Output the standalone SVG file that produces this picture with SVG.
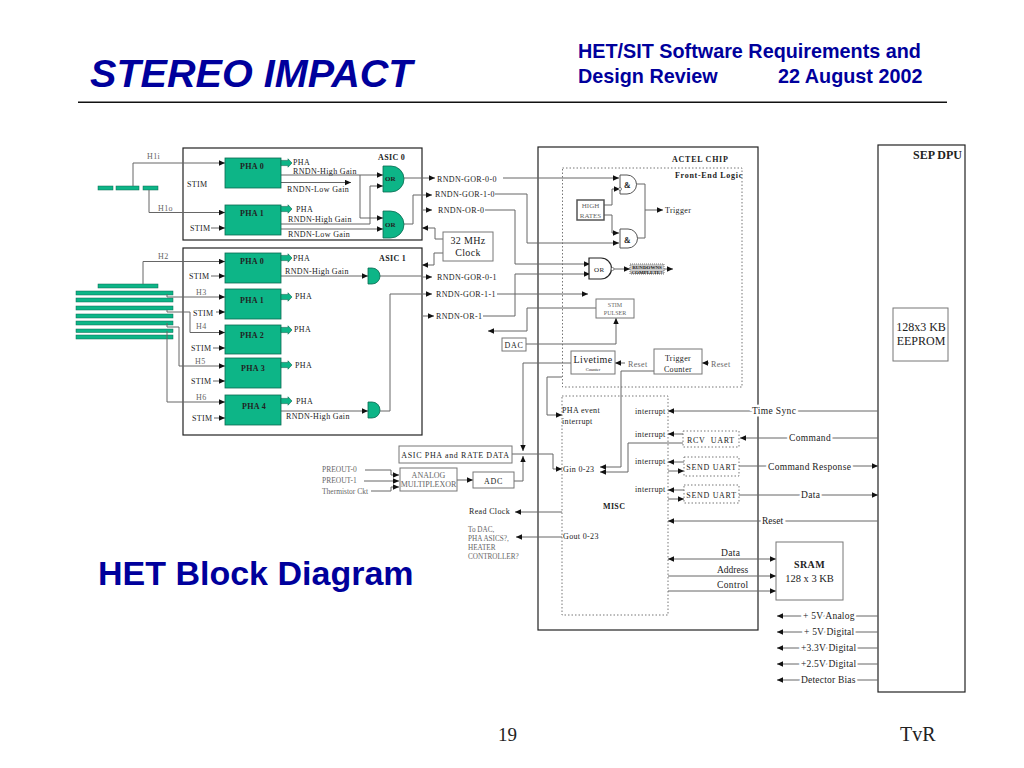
<svg xmlns="http://www.w3.org/2000/svg" width="1024" height="768" viewBox="0 0 1024 768">
<style>
text{font-family:"Liberation Serif","Times New Roman",serif;font-size:8px;fill:#222;letter-spacing:.35px}
.hd{font-family:"Liberation Sans",Arial,sans-serif;font-weight:bold;fill:#00009c;letter-spacing:0}
.b{font-weight:bold}
.g{fill:#666}
.h{paint-order:stroke;stroke:#fff;stroke-width:4.500px}
.m{text-anchor:middle}
.box{fill:#fff;stroke:#222;stroke-width:1.2}
.lbox{fill:#fff;stroke:#777;stroke-width:1}
.dot{fill:none;stroke:#777;stroke-width:1;stroke-dasharray:1.5 2}
.green{fill:#0db587;stroke:#0a6a50;stroke-width:.8}
.bar{fill:#0db587;stroke:#0a6a50;stroke-width:.5}
.c{fill:none;stroke:#666;stroke-width:1}
.a{marker-end:url(#ar)}
.aa{marker-start:url(#ar);marker-end:url(#ar)}
</style>
<defs>
<marker id="ar" markerUnits="userSpaceOnUse" markerWidth="7" markerHeight="6" refX="6" refY="3" orient="auto-start-reverse"><path d="M0 .3L6 3L0 5.700Z" fill="#111"/></marker>
<path id="out" d="M0-2.6H7V-4.2L11 0L7 4.2V2.6H0Z" fill="#0db587" stroke="#0a6a50" stroke-width=".6"/>
</defs>
<rect width="1024" height="768" fill="#fff"/>

<g id="header">
<text x="90" y="87" class="hd" style="font-size:39.600px;font-style:italic">STEREO IMPACT</text>
<text x="578" y="58" class="hd" style="font-size:19.800px">HET/SIT Software Requirements and</text>
<text x="578" y="83" class="hd" style="font-size:19.800px">Design Review</text>
<text x="778" y="83" class="hd" style="font-size:19.800px">22 August 2002</text>
<rect x="78" y="101.500" width="869" height="1.500" fill="#111"/>
<text x="98" y="585" class="hd" style="font-size:34px">HET Block Diagram</text>
<text x="498" y="741" style="font-size:19px;letter-spacing:0">19</text>
<text x="900" y="741" style="font-size:20px;letter-spacing:0">TvR</text>
</g>

<g id="asic0"><rect class="box" x="183" y="148" width="239" height="92"/><text x="378" y="160" class="b">ASIC 0</text><text x="187" y="187">STIM</text></g>
<g id="asic1"><rect class="box" x="183" y="248" width="239" height="187"/><text x="379" y="261" class="b">ASIC 1</text></g>
<g id="actel"><rect class="box" x="538" y="147" width="220" height="483"/><text x="672" y="162" class="b" style="letter-spacing:.75px">ACTEL CHIP</text></g>
<g id="front-end"><rect class="dot" x="562.500" y="168" width="179.500" height="219"/><text x="675" y="178" class="b" style="letter-spacing:.7px">Front-End Logic</text></g>
<g id="misc"><rect class="dot" x="562" y="396" width="106" height="219"/><text x="603" y="509" class="b">MISC</text>
<text x="562" y="413">PHA event</text><text x="562" y="424">interrupt</text><text x="563" y="472">Gin 0-23</text><text x="563" y="539">Gout 0-23</text>
<text x="635" y="414">interrupt</text><text x="635" y="437">interrupt</text><text x="635" y="464">interrupt</text><text x="635" y="492">interrupt</text></g>
<g id="sep-dpu"><rect class="box" x="878" y="145" width="87" height="547"/><text x="913" y="159" class="b" style="font-size:12px;letter-spacing:0">SEP DPU</text></g>
<g id="eeprom"><rect class="lbox" x="893" y="308" width="55" height="53"/><text x="921" y="331" class="m" style="font-size:12px;letter-spacing:0">128x3 KB</text><text x="921" y="345" class="m" style="font-size:12px;letter-spacing:0">EEPROM</text></g>

<g id="detectors">
<rect class="bar" x="98" y="186" width="15" height="4"/><rect class="bar" x="116" y="186" width="23" height="4"/><rect class="bar" x="143" y="186" width="15" height="4"/>
<rect class="bar" x="98" y="284" width="60" height="4"/>
<rect class="bar" x="76" y="291" width="97" height="4"/><rect class="bar" x="76" y="298" width="97" height="4"/><rect class="bar" x="76" y="306" width="97" height="4"/><rect class="bar" x="76" y="314" width="97" height="4"/><rect class="bar" x="76" y="321" width="97" height="4"/><rect class="bar" x="76" y="329" width="97" height="3.500"/><rect class="bar" x="76" y="335" width="97" height="4"/>
</g>

<g id="connectors">
<path class="c a" d="M133 186V163H225"/><path class="c a" d="M149 190V212.500H225"/><path class="c a" d="M143 284V261.500H225"/>
<path class="c a" d="M167 294V297H225"/><path class="c a" d="M167 310V312H190V332.500H225"/><path class="c a" d="M167 323V327H179V366H225"/><path class="c a" d="M167 331V402H225"/>
<path class="c a" d="M211 228H225"/><path class="c a" d="M211 276H225"/><path class="c a" d="M216 312H225"/><path class="c a" d="M213 348H225"/><path class="c a" d="M213 381H225"/><path class="c a" d="M214 418H225"/>
<path class="c a" d="M281 175H383"/><path class="c a" d="M360 175V218H383"/><path class="c a" d="M281 182.500H351"/><path class="c a" d="M281 224H370V186H383"/><path class="c a" d="M281 229H383"/>
<path class="c a" d="M281 276H368"/><path class="c a" d="M281 411H368"/>
<path class="c a" d="M404 178H435"/><path class="c a" d="M404 224H413V195H432"/><path class="c a" d="M423 210H432"/><path class="c" d="M380 276H422"/><path class="c a" d="M423 277H432"/>
<path class="c" d="M380 411H390V294H422"/><path class="c a" d="M423 294H432"/><path class="c a" d="M423 316H434"/>
<path class="c a" d="M443 239H435V228H422"/><path class="c a" d="M443 253H434V265H422"/>
<path class="c a" d="M503 178H619"/><path class="c a" d="M495 194H527V243H619"/><path class="c a" d="M485 210H515V264H590"/><path class="c a" d="M483 316H515V274H590"/><path class="c a" d="M497 294H588"/>
<path class="c a" d="M604 205H612V189H620"/><path class="c a" d="M604 215H612V233H619"/><path class="c" d="M636 184H645V238H637"/><path class="c a" d="M645 210H663"/>
<path class="c a" d="M614 269H630"/><path class="c a" d="M664 269H673"/>
<path class="c a" d="M596 308H527V331H488"/><path class="c a" d="M526 344H616V318"/>
<path class="c a" d="M625 363H615"/><path class="c a" d="M709 363H702"/>
<path class="c a" d="M571 363H523V451"/><path class="c a" d="M514 481H523V456"/><path class="c a" d="M512 454H553V469H562"/>
<path class="c a" d="M654 371H621V467H600"/><path class="c a" d="M683 443H628V472H600"/>
<path class="c a" d="M562 377H547V415H562"/>
<path class="c a" d="M878 411H668"/><path class="c a" d="M878 438H740"/><path class="c a" d="M683 434H668"/><path class="c a" d="M684 462H668"/><path class="c a" d="M668 471H684"/><path class="c a" d="M739 466H878"/><path class="c a" d="M684 490H668"/><path class="c a" d="M668 499H684"/><path class="c a" d="M739 495H878"/><path class="c a" d="M878 521H668"/>
<path class="c aa" d="M668 559H776"/><path class="c a" d="M668 576H776"/><path class="c a" d="M668 591H776"/>
<path class="c a" d="M878 616H777"/><path class="c a" d="M878 632H777"/><path class="c a" d="M878 648H777"/><path class="c a" d="M878 664H777"/><path class="c a" d="M878 680H777"/>
<path class="c a" d="M365 470H391V475H399"/><path class="c a" d="M364 481H399"/><path class="c a" d="M371 491H391V487H399"/><path class="c a" d="M457 480H473"/>
<path class="c a" d="M562 512H515"/><path class="c a" d="M562 537H516"/>
</g>

<g id="a0-pha0"><rect class="green" x="225" y="158" width="56" height="30"/><text x="252" y="169" class="m b">PHA 0</text><use href="#out" x="281" y="163"/><text x="293" y="165">PHA</text></g>
<g id="a0-pha1"><rect class="green" x="225" y="205" width="56" height="30"/><text x="252" y="216" class="m b">PHA 1</text><use href="#out" x="281" y="209"/><text x="296" y="212">PHA</text></g>
<g id="a1-pha0"><rect class="green" x="225" y="253" width="56" height="30"/><text x="252" y="264" class="m b">PHA 0</text><use href="#out" x="281" y="258"/><text x="293" y="261">PHA</text></g>
<g id="a1-pha1"><rect class="green" x="225" y="289" width="56" height="30"/><text x="252" y="303" class="m b">PHA 1</text><use href="#out" x="281" y="297"/><text x="295" y="299">PHA</text></g>
<g id="a1-pha2"><rect class="green" x="225" y="325" width="56" height="29"/><text x="252" y="338" class="m b">PHA 2</text><use href="#out" x="281" y="330"/><text x="294" y="332">PHA</text></g>
<g id="a1-pha3"><rect class="green" x="225" y="358" width="56" height="30"/><text x="253" y="371" class="m b">PHA 3</text><use href="#out" x="281" y="365"/><text x="295" y="368">PHA</text></g>
<g id="a1-pha4"><rect class="green" x="225" y="395" width="56" height="30"/><text x="254" y="409" class="m b">PHA 4</text><use href="#out" x="281" y="401"/><text x="296" y="404">PHA</text></g>

<g id="gates">
<path class="green" d="M383 166H391A13 13 0 0 1 391 192H383Z"/><text x="385" y="181" class="b" style="font-size:7px;letter-spacing:0">OR</text>
<path class="green" d="M383 211H390.500A13.500 13.500 0 0 1 390.500 238H383Z"/><text x="385" y="227" class="b" style="font-size:7px;letter-spacing:0">OR</text>
<path class="green" d="M368 268H372A8 8 0 0 1 372 284H368Z"/><path class="green" d="M368 402H372A8 8 0 0 1 372 418H368Z"/>
<path fill="#fff" stroke="#555" d="M620 175H627A9.500 9.500 0 0 1 627 194H620Z"/><text x="624" y="188" class="b">&amp;</text><circle cx="620" cy="189" r="1.500" fill="#fff" stroke="#555" stroke-width=".7"/>
<path fill="#fff" stroke="#555" d="M620 229H628A9.500 9.500 0 0 1 628 248H620Z"/><text x="624" y="243" class="b">&amp;</text>
<path fill="#fff" stroke="#222" stroke-width="1.200" d="M589 258H601A10.500 10.500 0 0 1 601 279H589Z"/><text x="594" y="272" style="font-size:7px">OR</text><circle cx="612.500" cy="269" r="1.500" fill="#fff" stroke="#555" stroke-width=".7"/>
</g>

<g id="labels">
<text x="147" y="159" class="g">H1i</text><text x="158" y="211" class="g">H1o</text><text x="158" y="259" class="g">H2</text><text x="196" y="295" class="g">H3</text><text x="196" y="329" class="g">H4</text><text x="195" y="364" class="g">H5</text><text x="196" y="400" class="g">H6</text>
<text x="190" y="231">STIM</text><text x="189" y="279">STIM</text><text x="193" y="316">STIM</text><text x="191" y="351">STIM</text><text x="191" y="384">STIM</text><text x="192" y="421">STIM</text>
<text x="293" y="174">RNDN-High Gain</text><text x="287" y="192">RNDN-Low Gain</text><text x="288" y="222">RNDN-High Gain</text><text x="288" y="237">RNDN-Low Gain</text><text x="285" y="274">RNDN-High Gain</text><text x="286" y="419">RNDN-High Gain</text>
<text x="437" y="182">RNDN-GOR-0-0</text><text x="435" y="197">RNDN-GOR-1-0</text><text x="438" y="213">RNDN-OR-0</text><text x="437" y="280">RNDN-GOR-0-1</text><text x="436" y="297">RNDN-GOR-1-1</text><text x="436" y="319">RNDN-OR-1</text>
<text x="665" y="213">Trigger</text><text x="628" y="367" class="g">Reset</text><text x="711" y="367" class="g">Reset</text>
<text x="469" y="514">Read Clock</text>
<text x="468" y="532" class="g" style="font-size:7.200px;letter-spacing:0">To DAC,</text><text x="468" y="541" class="g" style="font-size:7.200px;letter-spacing:0">PHA ASICS?,</text><text x="468" y="550" class="g" style="font-size:7.200px;letter-spacing:0">HEATER</text><text x="468" y="559" class="g" style="font-size:7.200px;letter-spacing:0">CONTROLLER?</text>
<text x="322" y="472" class="g" style="font-size:7.500px;letter-spacing:0">PREOUT-0</text><text x="322" y="483" class="g" style="font-size:7.500px;letter-spacing:0">PREOUT-1</text><text x="322" y="494" class="g" style="font-size:7.500px;letter-spacing:0">Thermistor Ckt</text>
<text x="752" y="414" class="h" style="font-size:9.500px">Time Sync</text><text x="789" y="441" class="h" style="font-size:9.500px">Command</text><text x="768" y="470" class="h" style="font-size:9.500px;letter-spacing:.3px">Command Response</text><text x="801" y="498" class="h" style="font-size:9.500px">Data</text><text x="762" y="524" class="h" style="font-size:9.500px;letter-spacing:0">Reset</text>
<text x="721" y="556" style="font-size:9.500px">Data</text><text x="717" y="573" style="font-size:9.500px;letter-spacing:0">Address</text><text x="717" y="588" style="font-size:9.500px">Control</text>
<text x="803" y="619" class="h" style="font-size:9.500px;letter-spacing:.25px">+ 5V Analog</text><text x="804" y="635" class="h" style="font-size:9.500px;letter-spacing:.2px">+ 5V Digital</text><text x="801" y="651" class="h" style="font-size:9.500px;letter-spacing:.2px">+3.3V Digital</text><text x="801" y="667" class="h" style="font-size:9.500px;letter-spacing:.2px">+2.5V Digital</text><text x="801" y="683" class="h" style="font-size:9.500px;letter-spacing:.2px">Detector Bias</text>
</g>

<g id="clock"><rect class="lbox" x="443" y="232" width="50" height="29"/><text x="468" y="244" class="m" style="font-size:10px">32 MHz</text><text x="468" y="256" class="m" style="font-size:10px">Clock</text></g>
<g id="high-rates"><rect fill="#fff" stroke="#555" stroke-width="1.500" x="577" y="200" width="27" height="20"/><text x="590.500" y="208" class="m g" style="font-size:7px;letter-spacing:0">HIGH</text><text x="590.500" y="218" class="m g" style="font-size:7px;letter-spacing:0">RATES</text></g>
<g id="rundowns"><rect fill="#ccc" stroke="#777" stroke-dasharray="1 1" x="630" y="264" width="34" height="10"/><text x="647" y="269" class="m b" style="font-size:5px;letter-spacing:0">RUNDOWNS</text><text x="647" y="273.500" class="m b" style="font-size:5px;letter-spacing:0">COMPLETE?</text></g>
<g id="stim-pulser"><rect class="lbox" x="596" y="299" width="38" height="19"/><text x="615" y="307" class="m g" style="font-size:6px;letter-spacing:0">STIM</text><text x="615" y="315" class="m g" style="font-size:6px;letter-spacing:0">PULSER</text></g>
<g id="dac"><rect class="lbox" x="502" y="338" width="24" height="13"/><text x="514" y="348" class="m" style="letter-spacing:.7px">DAC</text></g>
<g id="livetime"><rect class="lbox" x="571" y="351" width="44" height="23"/><text x="593" y="363" class="m" style="font-size:10px">Livetime</text><text x="593" y="371" class="m" style="font-size:4.500px;letter-spacing:0">Counter</text></g>
<g id="trigger-counter"><rect class="lbox" x="654" y="349" width="48" height="25"/><text x="678" y="361" class="m">Trigger</text><text x="678" y="372" class="m">Counter</text></g>
<g id="rcv-uart"><rect class="dot" x="683" y="431" width="56" height="16" style="fill:#fff"/><text x="711" y="443" class="m" style="letter-spacing:.7px" xml:space="preserve">RCV  UART</text></g>
<g id="send-uart-1"><rect class="dot" x="684" y="457" width="55" height="19" style="fill:#fff"/><text x="711.500" y="470" class="m" style="letter-spacing:.7px">SEND UART</text></g>
<g id="send-uart-2"><rect class="dot" x="684" y="485" width="55" height="18" style="fill:#fff"/><text x="711.500" y="498" class="m" style="letter-spacing:.7px">SEND UART</text></g>
<g id="sram"><rect class="lbox" x="776" y="542" width="67" height="58"/><text x="809.500" y="568" class="m b" style="font-size:10px">SRAM</text><text x="809.500" y="582" class="m" style="font-size:10.500px;letter-spacing:0">128 x 3 KB</text></g>
<g id="asic-data"><rect class="lbox" x="399" y="446" width="113" height="17"/><text x="455.500" y="458" class="m" style="letter-spacing:.65px">ASIC PHA and RATE DATA</text></g>
<g id="mux"><rect class="lbox" x="400" y="468" width="57" height="23"/><text x="428.500" y="478" class="m g" style="letter-spacing:0">ANALOG</text><text x="428.500" y="487" class="m g" style="letter-spacing:0">MULTIPLEXOR</text></g>
<g id="adc"><rect class="lbox" x="473" y="472" width="41" height="16"/><text x="493.500" y="484" class="m" style="letter-spacing:.7px">ADC</text></g>
</svg>
